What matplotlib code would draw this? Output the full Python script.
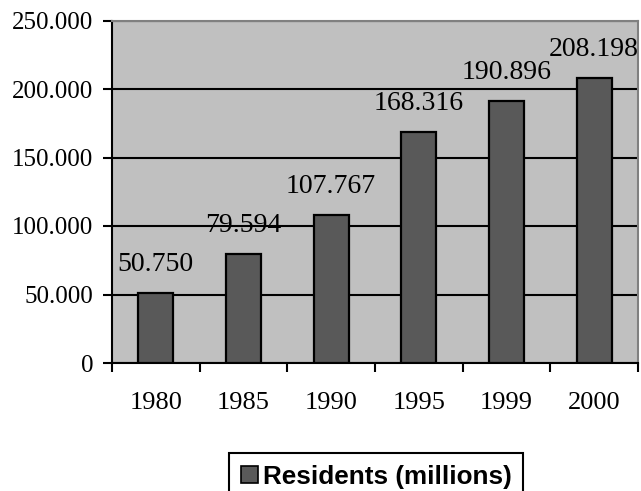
import numpy as np
import matplotlib.pyplot as plt
from matplotlib.patches import Patch

years = ["1980", "1985", "1990", "1995", "1999", "2000"]
residents = [50750, 79594, 107767, 168316, 190896, 208198]
y_ticks = [0, 50000, 100000, 150000, 200000, 250000]

def fmt(v):
    return "{:,}".format(v).replace(",", ".")

plt.rcParams["font.family"] = ["Liberation Serif", "DejaVu Serif"]

fig = plt.figure(figsize=(6.41, 4.91), dpi=100)
ax = fig.add_axes([112 / 641, 1 - 363 / 491, 526 / 641, (363 - 20.5) / 491])
ax.set_facecolor("#c0c0c0")

x = np.arange(len(years))
bars = ax.bar(x, residents, width=0.4, color="#595959", edgecolor="black",
              linewidth=1.6, zorder=3)

# value labels above the bars
for xi, v in zip(x, residents):
    ax.annotate(fmt(v), (xi, v), xytext=(0, 16), textcoords="offset points",
                ha="center", va="baseline", fontsize=20, zorder=4,
                annotation_clip=False)

ax.set_xlim(-0.5, len(years) - 0.5)
ax.set_ylim(0, 250000)
ax.set_yticks(y_ticks)
ax.set_yticklabels([fmt(t) for t in y_ticks])
ax.yaxis.grid(True, color="black", linewidth=1.5, zorder=1)
ax.set_axisbelow(True)

ax.set_xticks(x)
ax.set_xticklabels(years)
ax.set_xticks(np.arange(len(years) + 1) - 0.5, minor=True)
ax.tick_params(axis="x", which="major", length=0, pad=21, labelsize=19)
ax.tick_params(axis="x", which="minor", length=6.5, width=1.5, direction="out")
ax.tick_params(axis="y", length=6.5, width=1.5, pad=7, labelsize=18)

for side in ["top", "right"]:
    ax.spines[side].set_color("#808080")
    ax.spines[side].set_linewidth(1.5)
for side in ["left", "bottom"]:
    ax.spines[side].set_color("black")
    ax.spines[side].set_linewidth(1.5)

handle = Patch(facecolor="#595959", edgecolor="black", linewidth=1.2)
leg = fig.legend([handle], ["Residents (millions)"], loc="upper left",
                 bbox_to_anchor=(229 / 641, 1 - 453 / 491),
                 prop={"family": "Liberation Sans", "weight": "bold", "size": 18.8},
                 fancybox=False, edgecolor="black", framealpha=1,
                 handlelength=0.65, handleheight=0.65, handletextpad=0.2,
                 borderpad=0.45, borderaxespad=0)
leg.get_frame().set_linewidth(1.5)

fig.savefig("out.png", dpi=100)
